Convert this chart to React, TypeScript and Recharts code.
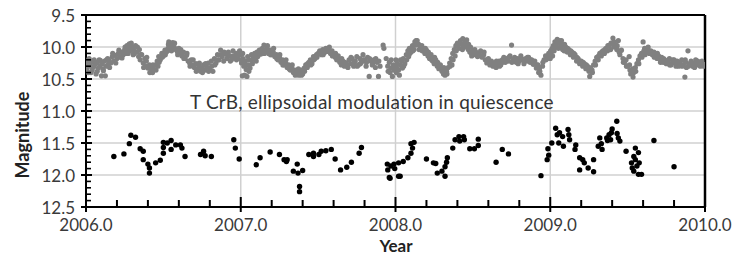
import { ScatterChart, Scatter, XAxis, YAxis, CartesianGrid, ReferenceLine } from 'recharts';

// tick values (minor + major); labels only drawn on majors
const yearTicks = [
  2006.0, 2006.2, 2006.4, 2006.6, 2006.8, 2007.0, 2007.2, 2007.4, 2007.6, 2007.8, 2008.0,
  2008.2, 2008.4, 2008.6, 2008.8, 2009.0, 2009.2, 2009.4, 2009.6, 2009.8, 2010.0,
];
const magTicks = [
  9.5, 9.6, 9.7, 9.8, 9.9, 10.0, 10.1, 10.2, 10.3, 10.4, 10.5, 10.6, 10.7, 10.8, 10.9, 11.0,
  11.1, 11.2, 11.3, 11.4, 11.5, 11.6, 11.7, 11.8, 11.9, 12.0, 12.1, 12.2, 12.3, 12.4, 12.5,
];
const yearGrid = [2007, 2008, 2009];
const magGrid = [10.0, 10.5, 11.0, 11.5, 12.0];

// gray band (V-ish magnitude), [year, mag]
const gray2006 = [
  [2006.0, 10.22], [2006.005, 10.35], [2006.01, 10.28], [2006.015, 10.4], [2006.02, 10.18], [2006.025, 10.3],
  [2006.03, 10.25], [2006.04, 10.36], [2006.045, 10.22], [2006.05, 10.31], [2006.06, 10.27], [2006.065, 10.42],
  [2006.07, 10.24], [2006.08, 10.33], [2006.085, 10.2], [2006.09, 10.29], [2006.1, 10.45], [2006.105, 10.26],
  [2006.11, 10.34], [2006.12, 10.22], [2006.125, 10.45], [2006.13, 10.3], [2006.14, 10.18], [2006.145, 10.27],
  [2006.15, 10.21], [2006.16, 10.25], [2006.17, 10.15], [2006.18, 10.22], [2006.19, 10.13], [2006.2, 10.18],
  [2006.21, 10.1], [2006.22, 10.16], [2006.23, 10.08], [2006.24, 10.12], [2006.25, 10.04], [2006.26, 10.1],
  [2006.265, 9.98], [2006.27, 10.03], [2006.28, 9.95], [2006.285, 10.06], [2006.29, 9.99], [2006.3, 10.02],
  [2006.305, 10.12], [2006.31, 10.05], [2006.32, 9.98], [2006.33, 10.08], [2006.34, 10.15], [2006.345, 10.04],
  [2006.35, 10.2], [2006.36, 10.12], [2006.37, 10.25], [2006.38, 10.18], [2006.385, 10.3], [2006.39, 10.22],
  [2006.4, 10.33], [2006.41, 10.28], [2006.42, 10.38], [2006.425, 10.32], [2006.43, 10.4], [2006.44, 10.35],
  [2006.45, 10.28], [2006.46, 10.22], [2006.465, 10.3], [2006.47, 10.15], [2006.48, 10.2], [2006.49, 10.1],
  [2006.5, 10.14], [2006.51, 10.05], [2006.52, 10.08], [2006.53, 10.02], [2006.535, 9.92], [2006.54, 10.05],
  [2006.55, 9.97], [2006.555, 10.02], [2006.56, 9.93], [2006.57, 10.0], [2006.58, 10.04], [2006.59, 10.07],
  [2006.6, 10.02], [2006.61, 10.1], [2006.62, 10.14], [2006.63, 10.08], [2006.64, 10.18], [2006.65, 10.13],
  [2006.66, 10.22], [2006.67, 10.25], [2006.68, 10.2], [2006.69, 10.28], [2006.7, 10.32], [2006.71, 10.26],
  [2006.72, 10.35], [2006.73, 10.3], [2006.74, 10.38], [2006.75, 10.33], [2006.76, 10.28], [2006.77, 10.36],
  [2006.78, 10.31], [2006.79, 10.25], [2006.8, 10.33], [2006.81, 10.22], [2006.82, 10.38], [2006.83, 10.18],
  [2006.84, 10.25], [2006.85, 10.12], [2006.86, 10.2], [2006.87, 10.05], [2006.88, 10.15], [2006.89, 10.22],
  [2006.9, 10.1], [2006.91, 10.18], [2006.92, 10.08], [2006.93, 10.14], [2006.94, 10.2], [2006.95, 10.06],
  [2006.96, 10.15], [2006.97, 10.1], [2006.98, 10.18], [2006.99, 10.12],
  [2006.0025, 10.38], [2006.0125, 10.22], [2006.0325, 10.4], [2006.0525, 10.2], [2006.0725, 10.38], [2006.0925, 10.21],
  [2006.1125, 10.37], [2006.1325, 10.2], [2006.1525, 10.32], [2006.1725, 10.1], [2006.1925, 10.25], [2006.2125, 10.05],
  [2006.2325, 10.17], [2006.2525, 10.0], [2006.2725, 10.1], [2006.2925, 9.94], [2006.3125, 10.1], [2006.3325, 10.0],
  [2006.3525, 10.12], [2006.3725, 10.32], [2006.3925, 10.16], [2006.4125, 10.4], [2006.4325, 10.28], [2006.4525, 10.36],
  [2006.4725, 10.24], [2006.4925, 10.16], [2006.5125, 10.12], [2006.5325, 9.96], [2006.5525, 10.06], [2006.5725, 9.94],
  [2006.5925, 10.12], [2006.6125, 10.04], [2006.6325, 10.18], [2006.6525, 10.1], [2006.6725, 10.3], [2006.6925, 10.2],
  [2006.7125, 10.38], [2006.7325, 10.25], [2006.7525, 10.4], [2006.7725, 10.26], [2006.7925, 10.38], [2006.8125, 10.3],
  [2006.8325, 10.28], [2006.8525, 10.2], [2006.8725, 10.12], [2006.8925, 10.08], [2006.9125, 10.12], [2006.9325, 10.22],
  [2006.9525, 10.14], [2006.9725, 10.2], [2006.9925, 10.06],
];
const gray2007 = [
  [2007.0, 10.12], [2007.005, 10.25], [2007.01, 10.45], [2007.015, 10.18], [2007.02, 10.3], [2007.025, 10.44],
  [2007.03, 10.22], [2007.035, 10.35], [2007.04, 10.46], [2007.045, 10.15], [2007.05, 10.28], [2007.055, 10.2],
  [2007.06, 10.33], [2007.07, 10.12], [2007.075, 10.26], [2007.08, 10.18], [2007.09, 10.1], [2007.1, 10.22],
  [2007.105, 10.08], [2007.11, 10.15], [2007.12, 10.05], [2007.13, 10.11], [2007.14, 10.02], [2007.145, 10.08],
  [2007.15, 9.97], [2007.16, 10.06], [2007.17, 10.03], [2007.18, 10.1], [2007.19, 10.05], [2007.2, 10.12],
  [2007.21, 10.08], [2007.22, 10.15], [2007.23, 10.12], [2007.24, 10.2], [2007.25, 10.16], [2007.26, 10.24],
  [2007.27, 10.2], [2007.28, 10.28], [2007.29, 10.25], [2007.3, 10.32], [2007.31, 10.28], [2007.32, 10.36],
  [2007.33, 10.33], [2007.34, 10.4], [2007.35, 10.36], [2007.36, 10.42], [2007.37, 10.38], [2007.375, 10.44],
  [2007.38, 10.4], [2007.39, 10.36], [2007.4, 10.42], [2007.41, 10.33], [2007.42, 10.28], [2007.43, 10.32],
  [2007.44, 10.24], [2007.45, 10.2], [2007.46, 10.26], [2007.47, 10.15], [2007.48, 10.18], [2007.49, 10.12],
  [2007.5, 10.1], [2007.51, 10.06], [2007.52, 10.12], [2007.53, 10.04], [2007.54, 10.09], [2007.55, 10.02],
  [2007.56, 10.07], [2007.57, 10.04], [2007.58, 10.1], [2007.59, 10.06], [2007.6, 10.12], [2007.61, 10.16],
  [2007.62, 10.2], [2007.63, 10.14], [2007.64, 10.24], [2007.65, 10.28], [2007.66, 10.22], [2007.67, 10.3],
  [2007.68, 10.25], [2007.69, 10.28], [2007.7, 10.2], [2007.71, 10.26], [2007.72, 10.18], [2007.73, 10.3],
  [2007.74, 10.22], [2007.75, 10.15], [2007.76, 10.28], [2007.77, 10.18], [2007.78, 10.24], [2007.79, 10.12],
  [2007.8, 10.2], [2007.81, 10.3], [2007.82, 10.16], [2007.83, 10.46], [2007.84, 10.22], [2007.85, 10.28],
  [2007.86, 10.2], [2007.87, 10.32], [2007.88, 10.24], [2007.89, 10.46], [2007.9, 10.3], [2007.92, 9.97],
  [2007.925, 10.02], [2007.94, 10.18], [2007.95, 10.3], [2007.96, 10.24], [2007.965, 10.4], [2007.97, 10.33],
  [2007.98, 10.46], [2007.985, 10.28], [2007.99, 10.36],
  [2007.0025, 10.2], [2007.0125, 10.1], [2007.0325, 10.28], [2007.0525, 10.38], [2007.0725, 10.2], [2007.0925, 10.16],
  [2007.1125, 10.12], [2007.1325, 10.04], [2007.1525, 10.1], [2007.1725, 9.98], [2007.1925, 10.12], [2007.2125, 10.02],
  [2007.2325, 10.18], [2007.2525, 10.12], [2007.2725, 10.28], [2007.2925, 10.2], [2007.3125, 10.34], [2007.3325, 10.28],
  [2007.3525, 10.44], [2007.3725, 10.34], [2007.3925, 10.44], [2007.4125, 10.38], [2007.4325, 10.26], [2007.4525, 10.28],
  [2007.4725, 10.2], [2007.4925, 10.16], [2007.5125, 10.1], [2007.5325, 10.12], [2007.5525, 10.06], [2007.5725, 10.0],
  [2007.5925, 10.14], [2007.6125, 10.1], [2007.6325, 10.2], [2007.6525, 10.18], [2007.6725, 10.24], [2007.6925, 10.32],
  [2007.7125, 10.16], [2007.7325, 10.24], [2007.7525, 10.3], [2007.7725, 10.26], [2007.7925, 10.2], [2007.8125, 10.24],
  [2007.8325, 10.18], [2007.8525, 10.26], [2007.8725, 10.18], [2007.8925, 10.22], [2007.9525, 10.38], [2007.9725, 10.2],
  [2007.9925, 10.3],
];
const gray2008 = [
  [2008.0, 10.3], [2008.005, 10.4], [2008.01, 10.25], [2008.02, 10.36], [2008.025, 10.44], [2008.03, 10.28],
  [2008.04, 10.22], [2008.045, 10.33], [2008.05, 10.18], [2008.06, 10.26], [2008.07, 10.12], [2008.08, 10.06],
  [2008.085, 10.15], [2008.09, 10.02], [2008.1, 10.08], [2008.11, 9.98], [2008.12, 10.04], [2008.125, 9.92],
  [2008.13, 9.97], [2008.14, 9.9], [2008.15, 9.96], [2008.16, 10.02], [2008.17, 9.98], [2008.18, 10.06],
  [2008.19, 10.1], [2008.2, 10.05], [2008.21, 10.14], [2008.22, 10.18], [2008.23, 10.12], [2008.24, 10.22],
  [2008.25, 10.26], [2008.26, 10.2], [2008.27, 10.3], [2008.28, 10.34], [2008.29, 10.28], [2008.3, 10.38],
  [2008.31, 10.42], [2008.315, 10.36], [2008.32, 10.44], [2008.33, 10.38], [2008.34, 10.32], [2008.35, 10.25],
  [2008.36, 10.18], [2008.365, 10.28], [2008.37, 10.1], [2008.38, 10.04], [2008.385, 10.14], [2008.39, 9.98],
  [2008.4, 9.94], [2008.41, 10.02], [2008.42, 9.9], [2008.43, 9.96], [2008.435, 9.87], [2008.44, 10.0],
  [2008.45, 9.93], [2008.46, 9.89], [2008.47, 10.04], [2008.48, 10.08], [2008.485, 10.0], [2008.49, 10.1],
  [2008.5, 10.05], [2008.51, 10.12], [2008.52, 10.08], [2008.53, 10.15], [2008.54, 10.1], [2008.55, 10.06],
  [2008.56, 10.16], [2008.57, 10.12], [2008.58, 10.2], [2008.59, 10.25], [2008.6, 10.18], [2008.61, 10.28],
  [2008.62, 10.22], [2008.63, 10.3], [2008.64, 10.25], [2008.65, 10.32], [2008.66, 10.27], [2008.67, 10.22],
  [2008.68, 10.28], [2008.69, 10.2], [2008.7, 10.16], [2008.71, 10.24], [2008.72, 10.18], [2008.73, 10.22],
  [2008.74, 10.14], [2008.75, 9.97], [2008.76, 10.2], [2008.77, 10.16], [2008.78, 10.24], [2008.79, 10.18],
  [2008.8, 10.22], [2008.81, 10.14], [2008.82, 10.2], [2008.83, 10.26], [2008.84, 10.18], [2008.85, 10.22],
  [2008.86, 10.16], [2008.87, 10.24], [2008.88, 10.2], [2008.89, 10.27], [2008.9, 10.22], [2008.91, 10.33],
  [2008.92, 10.28], [2008.925, 10.4], [2008.93, 10.34], [2008.94, 10.44], [2008.95, 10.3], [2008.96, 10.2],
  [2008.97, 10.14], [2008.98, 10.18], [2008.99, 10.1],
  [2008.0025, 10.2], [2008.0125, 10.34], [2008.0325, 10.2], [2008.0525, 10.3], [2008.0725, 10.2], [2008.0925, 10.1],
  [2008.1125, 10.06], [2008.1325, 9.9], [2008.1525, 10.04], [2008.1725, 10.06], [2008.1925, 10.02], [2008.2125, 10.08],
  [2008.2325, 10.2], [2008.2525, 10.16], [2008.2725, 10.24], [2008.2925, 10.34], [2008.3125, 10.32], [2008.3325, 10.42],
  [2008.3525, 10.3], [2008.3725, 10.2], [2008.3925, 10.06], [2008.4125, 9.95], [2008.4325, 10.04], [2008.4525, 10.0],
  [2008.4725, 9.96], [2008.4925, 10.14], [2008.5125, 10.04], [2008.5325, 10.1], [2008.5525, 10.14], [2008.5725, 10.08],
  [2008.5925, 10.2], [2008.6125, 10.24], [2008.6325, 10.26], [2008.6525, 10.22], [2008.6725, 10.3], [2008.6925, 10.24],
  [2008.7125, 10.2], [2008.7325, 10.16], [2008.7525, 10.24], [2008.7725, 10.2], [2008.7925, 10.26], [2008.8125, 10.18],
  [2008.8325, 10.2], [2008.8525, 10.16], [2008.8725, 10.2], [2008.8925, 10.24], [2008.9125, 10.28], [2008.9325, 10.38],
  [2008.9525, 10.24], [2008.9725, 10.2], [2008.9925, 10.14],
];
const gray2009 = [
  [2009.0, 10.18], [2009.005, 10.1], [2009.01, 10.05], [2009.015, 10.14], [2009.02, 9.98], [2009.025, 10.06],
  [2009.03, 9.92], [2009.04, 9.96], [2009.045, 9.88], [2009.05, 9.94], [2009.06, 9.9], [2009.065, 10.0],
  [2009.07, 9.95], [2009.08, 10.04], [2009.085, 9.97], [2009.09, 10.06], [2009.1, 10.0], [2009.11, 10.08],
  [2009.12, 10.04], [2009.13, 10.12], [2009.14, 10.08], [2009.15, 10.16], [2009.16, 10.12], [2009.17, 10.22],
  [2009.18, 10.18], [2009.19, 10.26], [2009.2, 10.22], [2009.21, 10.3], [2009.22, 10.26], [2009.23, 10.34],
  [2009.24, 10.3], [2009.25, 10.38], [2009.255, 10.46], [2009.26, 10.33], [2009.27, 10.36], [2009.28, 10.28],
  [2009.29, 10.22], [2009.3, 10.16], [2009.31, 10.2], [2009.32, 10.1], [2009.33, 10.14], [2009.34, 10.06],
  [2009.35, 10.1], [2009.36, 10.02], [2009.37, 10.06], [2009.38, 9.98], [2009.39, 10.04], [2009.4, 9.94],
  [2009.405, 9.86], [2009.41, 10.0], [2009.42, 9.96], [2009.43, 10.04], [2009.44, 9.9], [2009.445, 10.08],
  [2009.45, 10.12], [2009.46, 10.05], [2009.47, 10.18], [2009.48, 10.24], [2009.49, 10.2], [2009.5, 10.3],
  [2009.51, 10.15], [2009.515, 10.36], [2009.52, 10.42], [2009.53, 10.38], [2009.535, 10.47], [2009.54, 10.4],
  [2009.55, 10.32], [2009.56, 10.26], [2009.57, 10.2], [2009.58, 10.14], [2009.59, 10.1], [2009.6, 9.92],
  [2009.605, 10.06], [2009.61, 10.02], [2009.62, 10.08], [2009.63, 10.04], [2009.64, 10.1], [2009.65, 10.06],
  [2009.66, 10.12], [2009.67, 10.08], [2009.68, 10.14], [2009.69, 10.18], [2009.7, 10.14], [2009.71, 10.2],
  [2009.72, 10.16], [2009.73, 10.24], [2009.74, 10.2], [2009.75, 10.26], [2009.76, 10.22], [2009.77, 10.18],
  [2009.78, 10.28], [2009.79, 10.24], [2009.8, 10.2], [2009.81, 10.26], [2009.82, 10.22], [2009.83, 10.3],
  [2009.84, 10.25], [2009.85, 10.2], [2009.86, 10.28], [2009.87, 10.47], [2009.875, 10.24], [2009.88, 10.32],
  [2009.89, 10.06], [2009.9, 10.26], [2009.91, 10.22], [2009.92, 10.3], [2009.93, 10.25], [2009.94, 10.2],
  [2009.95, 10.28], [2009.96, 10.24], [2009.97, 10.3], [2009.98, 10.22], [2009.99, 10.27],
  [2009.0025, 10.06], [2009.0125, 10.02], [2009.0325, 10.0], [2009.0525, 10.02], [2009.0725, 9.9], [2009.0925, 9.96],
  [2009.1125, 10.02], [2009.1325, 10.06], [2009.1525, 10.1], [2009.1725, 10.16], [2009.1925, 10.22], [2009.2125, 10.24],
  [2009.2325, 10.28], [2009.2525, 10.32], [2009.2725, 10.4], [2009.2925, 10.28], [2009.3125, 10.14], [2009.3325, 10.08],
  [2009.3525, 10.04], [2009.3725, 9.98], [2009.3925, 9.94], [2009.4125, 9.92], [2009.4325, 9.98], [2009.4525, 10.06],
  [2009.4725, 10.24], [2009.4925, 10.3], [2009.5125, 10.28], [2009.5325, 10.34], [2009.5525, 10.38], [2009.5725, 10.26],
  [2009.5925, 10.16], [2009.6125, 10.12], [2009.6325, 10.0], [2009.6525, 10.1], [2009.6725, 10.16], [2009.6925, 10.1],
  [2009.7125, 10.24], [2009.7325, 10.18], [2009.7525, 10.22], [2009.7725, 10.28], [2009.7925, 10.2], [2009.8125, 10.3],
  [2009.8325, 10.24], [2009.8525, 10.3], [2009.8725, 10.2], [2009.8925, 10.3], [2009.9125, 10.26], [2009.9325, 10.32],
  [2009.9525, 10.22], [2009.9725, 10.26], [2009.9925, 10.3],
];

// black points (fainter band), [year, mag]
const black2006_07 = [
  [2006.18, 11.71], [2006.245, 11.67], [2006.28, 11.51], [2006.29, 11.38], [2006.32, 11.41], [2006.35, 11.59],
  [2006.37, 11.63], [2006.37, 11.76], [2006.4, 11.83], [2006.41, 11.89], [2006.41, 11.97], [2006.45, 11.81],
  [2006.48, 11.77], [2006.5, 11.66], [2006.5, 11.57], [2006.5, 11.49], [2006.525, 11.5], [2006.55, 11.46],
  [2006.55, 11.6], [2006.58, 11.53], [2006.61, 11.53], [2006.62, 11.58], [2006.64, 11.71], [2006.74, 11.68],
  [2006.76, 11.63], [2006.77, 11.7], [2006.81, 11.71], [2006.955, 11.45], [2006.965, 11.58], [2006.99, 11.75],
  [2007.1, 11.84], [2007.125, 11.73], [2007.19, 11.64], [2007.25, 11.68], [2007.28, 11.76], [2007.295, 11.79],
  [2007.3, 11.76], [2007.34, 11.94], [2007.365, 11.83], [2007.37, 11.97], [2007.4, 11.93], [2007.38, 12.18],
  [2007.38, 12.26], [2007.44, 11.68], [2007.47, 11.66], [2007.47, 11.71], [2007.505, 11.68], [2007.52, 11.63],
  [2007.55, 11.62], [2007.585, 11.6], [2007.61, 11.75], [2007.645, 11.92], [2007.685, 11.88], [2007.715, 11.8],
  [2007.765, 11.66], [2007.78, 11.57], [2007.947, 11.83], [2007.95, 11.92], [2007.96, 12.04], [2007.965, 12.05],
  [2007.97, 11.86], [2007.99, 11.83], [2007.995, 11.9],
];
const black2008_09 = [
  [2008.02, 12.02], [2008.02, 11.81], [2008.03, 12.02], [2008.05, 11.79], [2008.08, 11.73], [2008.1, 11.66],
  [2008.11, 11.58], [2008.1, 11.51], [2008.12, 11.49], [2008.2, 11.75], [2008.245, 11.81], [2008.26, 11.82],
  [2008.27, 11.97], [2008.3, 11.94], [2008.32, 12.02], [2008.32, 11.87], [2008.33, 11.8], [2008.335, 11.73],
  [2008.37, 11.58], [2008.385, 11.45], [2008.41, 11.4], [2008.415, 11.47], [2008.44, 11.4], [2008.445, 11.45],
  [2008.48, 11.59], [2008.51, 11.59], [2008.535, 11.54], [2008.535, 11.44], [2008.65, 11.8], [2008.69, 11.6],
  [2008.73, 11.67], [2008.94, 12.01], [2008.98, 11.76], [2008.99, 11.69], [2008.985, 11.59], [2009.01, 11.5],
  [2009.035, 11.27], [2009.045, 11.37], [2009.06, 11.34], [2009.055, 11.5], [2009.08, 11.4], [2009.085, 11.55],
  [2009.115, 11.29], [2009.12, 11.37], [2009.125, 11.45], [2009.16, 11.6], [2009.165, 11.53], [2009.19, 11.73],
  [2009.19, 11.92], [2009.21, 11.76], [2009.22, 11.81], [2009.245, 11.89], [2009.28, 11.76], [2009.28, 11.95],
  [2009.31, 11.55], [2009.32, 11.42], [2009.33, 11.51], [2009.335, 11.6], [2009.365, 11.42], [2009.37, 11.46],
  [2009.38, 11.37], [2009.39, 11.45], [2009.395, 11.34], [2009.4, 11.28], [2009.43, 11.16], [2009.432, 11.35],
  [2009.44, 11.42], [2009.45, 11.47], [2009.49, 11.63], [2009.525, 11.81], [2009.53, 11.89], [2009.54, 11.71],
  [2009.54, 11.94], [2009.55, 11.76], [2009.55, 11.58], [2009.56, 11.86], [2009.57, 11.65], [2009.57, 11.99],
  [2009.59, 11.99], [2009.575, 11.81], [2009.67, 11.46], [2009.8, 11.87],
];

const toPts = (rows: number[][]) => rows.map(([x, y]) => ({ x, y }));
const grayData = toPts([...gray2006, ...gray2007, ...gray2008, ...gray2009]);
const blackData = toPts([...black2006_07, ...black2008_09]);

const FONT = 'Lato, "Open Sans", sans-serif';

const XTick = ({ x, y, payload }: any) => {
  const v = payload.value;
  const major = Math.abs(v - Math.round(v)) < 1e-6;
  return (
    <g>
      {major ? (
        <line x1={x} x2={x} y1={y - 10} y2={y + 5} stroke="#000" strokeWidth={2} />
      ) : (
        <line x1={x} x2={x} y1={y - 7} y2={y} stroke="#000" strokeWidth={2} />
      )}
      {major && (
        <text x={x} y={y + 17} textAnchor="middle" dominantBaseline="central" fontFamily={FONT} fontSize={17} fill="#3a3a3a">
          {v.toFixed(1)}
        </text>
      )}
    </g>
  );
};

const YTick = ({ x, y, payload }: any) => {
  const v = payload.value;
  const major = Math.abs(v * 2 - Math.round(v * 2)) < 1e-6;
  return (
    <g>
      {major ? (
        <line x1={x - 5} x2={x + 6} y1={y} y2={y} stroke="#000" strokeWidth={2} />
      ) : (
        <line x1={x} x2={x + 5} y1={y} y2={y} stroke="#000" strokeWidth={1.6} />
      )}
      {major && (
        <text x={x - 11} y={y} textAnchor="end" dominantBaseline="central" fontFamily={FONT} fontSize={17} fill="#3a3a3a">
          {v.toFixed(1)}
        </text>
      )}
    </g>
  );
};

export default function App() {
  return (
    <div style={{ position: 'absolute', left: 0, top: 0, width: 736, height: 255, background: '#fff' }}>
      <ScatterChart width={736} height={255} margin={{ top: 15, right: 31, bottom: 18, left: 26 }}>
        <CartesianGrid
          stroke="#d0d0d0"
          strokeWidth={1.5}
          horizontalValues={magGrid}
          verticalValues={yearGrid}
        />
        <XAxis
          type="number"
          dataKey="x"
          domain={[2006, 2010]}
          ticks={yearTicks}
          interval={0}
          allowDataOverflow
          tick={<XTick />}
          tickSize={0}
          tickMargin={0}
          tickLine={false}
          axisLine={{ stroke: '#000', strokeWidth: 2 }}
          height={30}
        />
        <YAxis
          type="number"
          dataKey="y"
          domain={[9.5, 12.5]}
          reversed
          ticks={magTicks}
          interval={0}
          allowDataOverflow
          tick={<YTick />}
          tickSize={0}
          tickMargin={0}
          tickLine={false}
          axisLine={{ stroke: '#000', strokeWidth: 2 }}
          width={60}
        />
        <ReferenceLine y={9.5} stroke="#000" strokeWidth={2} />
        <ReferenceLine x={2010} stroke="#000" strokeWidth={2.5} />
        <Scatter
          data={grayData}
          isAnimationActive={false}
          shape={(p: any) => <circle cx={p.cx} cy={p.cy} r={2.6} fill="#808080" />}
        />
        <Scatter
          data={blackData}
          isAnimationActive={false}
          shape={(p: any) => <circle cx={p.cx} cy={p.cy} r={2.7} fill="#000" />}
        />
      </ScatterChart>
      <div
        style={{
          position: 'absolute', left: 190, top: 92, fontFamily: FONT, fontSize: 19, letterSpacing: 0.2,
          color: '#333', whiteSpace: 'nowrap', lineHeight: '20px',
        }}
      >
        T CrB, ellipsoidal modulation in quiescence
      </div>
      <div
        style={{
          position: 'absolute', left: 396, top: 246, transform: 'translate(-50%, -50%)',
          fontFamily: FONT, fontSize: 17, fontWeight: 700, color: '#222', lineHeight: '16px',
        }}
      >
        Year
      </div>
      <div
        style={{
          position: 'absolute', left: 22, top: 135, transform: 'translate(-50%, -50%) rotate(-90deg)',
          fontFamily: FONT, fontSize: 18, fontWeight: 700, color: '#222', lineHeight: '20px', whiteSpace: 'nowrap',
        }}
      >
        Magnitude
      </div>
    </div>
  );
}
